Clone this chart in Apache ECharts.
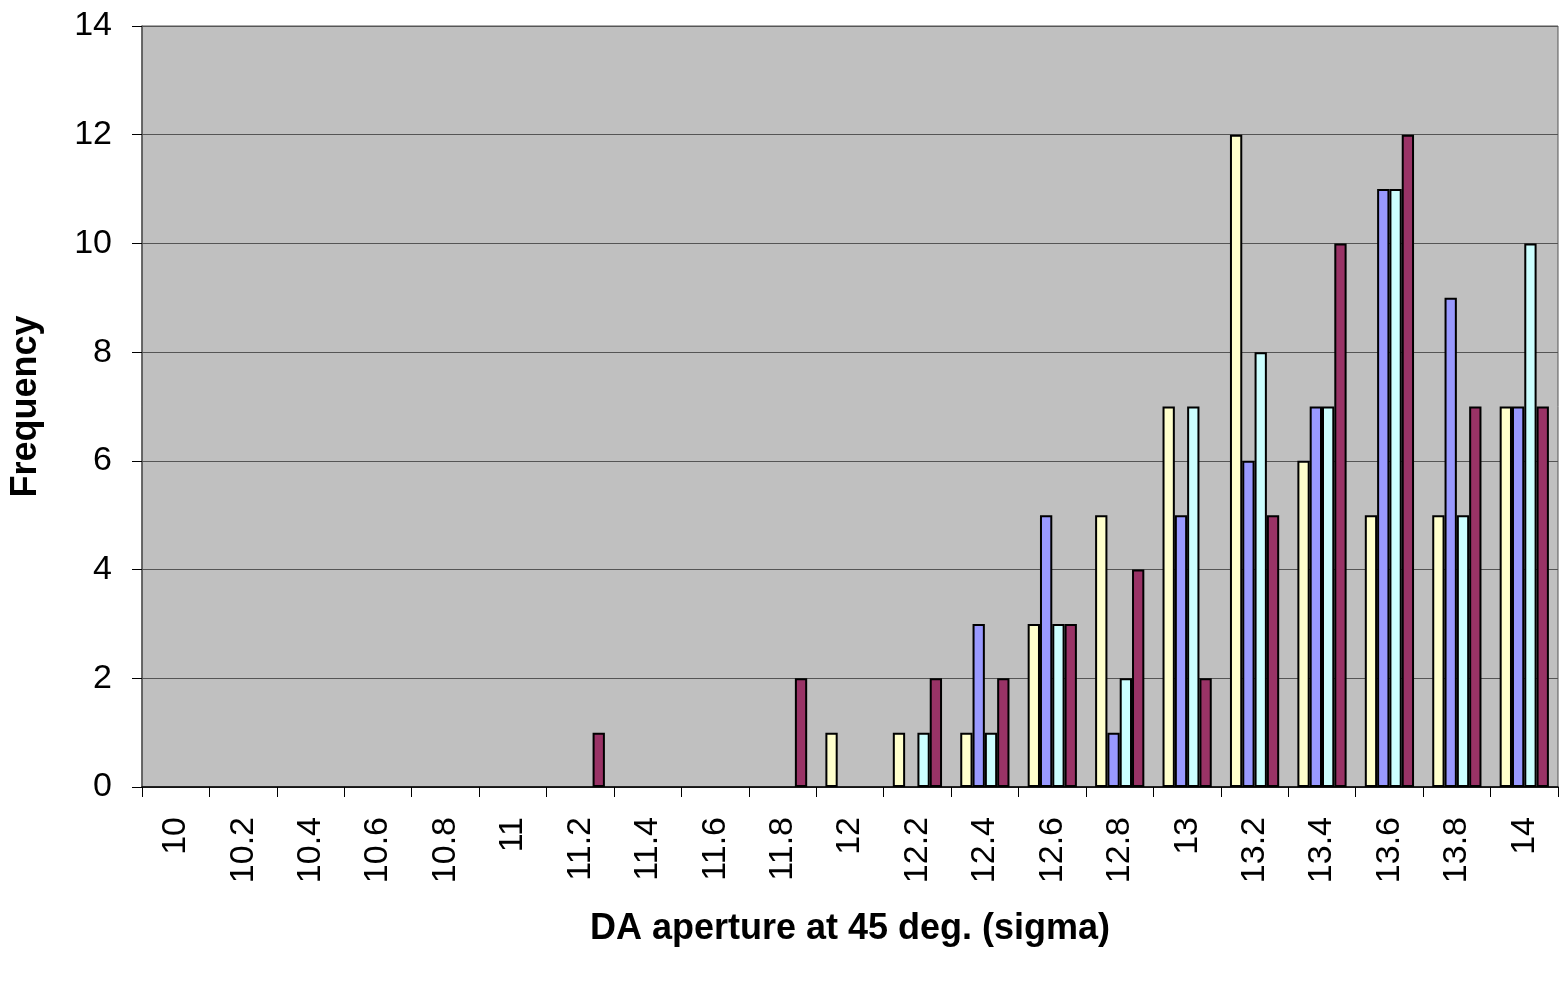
<!DOCTYPE html>
<html>
<head>
<meta charset="utf-8">
<script src="https://cdn.jsdelivr.net/npm/echarts@6/dist/echarts.min.js"></script>
<style>
  html, body { margin: 0; padding: 0; background: #fff; }
  #chart { width: 1561px; height: 998px; }
</style>
</head>
<body>
<div id="chart"></div>
<script>
const categories = ['10', '10.2', '10.4', '10.6', '10.8', '11', '11.2', '11.4', '11.6', '11.8',
  '12', '12.2', '12.4', '12.6', '12.8', '13', '13.2', '13.4', '13.6', '13.8', '14'];

// four frequency series
const seriesA = [0, 0, 0, 0, 0, 0, 0, 0, 0, 0, 1, 1, 1, 3, 5, 7, 12, 6, 5, 5, 7];
const seriesB = [0, 0, 0, 0, 0, 0, 0, 0, 0, 0, 0, 0, 3, 5, 1, 5, 6, 7, 11, 9, 7];
const seriesC = [0, 0, 0, 0, 0, 0, 0, 0, 0, 0, 0, 1, 1, 3, 2, 7, 8, 7, 11, 5, 10];
const seriesD = [0, 0, 0, 0, 0, 0, 1, 0, 0, 2, 0, 2, 2, 3, 4, 2, 5, 10, 12, 7, 7];

const colors = ['#FFFFCC', '#9999FF', '#CCFFFF', '#993366'];

const chart = echarts.init(document.getElementById('chart'));

const mkSeries = (name, data, color) => ({
  name: name,
  type: 'bar',
  data: data.map(v => (v === 0 ? null : v)),
  barGap: '0%',
  barCategoryGap: '27%',
  itemStyle: { color: color, borderColor: '#000', borderWidth: 2 }
});

chart.setOption({
  animation: false,
  backgroundColor: '#fff',
  textStyle: { fontFamily: 'Liberation Sans, Arial, sans-serif' },
  grid: { left: 141, right: 3, top: 26, bottom: 211, show: true, backgroundColor: '#C0C0C0', borderColor: '#555', borderWidth: 1 },
  xAxis: {
    type: 'category',
    data: categories,
    name: 'DA aperture at 45 deg. (sigma)',
    nameLocation: 'middle',
    nameGap: 124,
    nameTextStyle: { fontSize: 36, fontWeight: 'bold', color: '#000' },
    axisLine: { lineStyle: { color: '#000', width: 1.5 } },
    axisTick: { show: true, length: 10, lineStyle: { color: '#000' } },
    axisLabel: { rotate: 90, fontSize: 34, color: '#000', margin: 30, interval: 0 },
    splitLine: { show: false }
  },
  yAxis: {
    type: 'value',
    min: 0,
    max: 14,
    interval: 2,
    name: 'Frequency',
    nameLocation: 'middle',
    nameGap: 98,
    nameRotate: 90,
    nameTextStyle: { fontSize: 36, fontWeight: 'bold', color: '#000' },
    axisLine: { show: true, lineStyle: { color: '#555', width: 1.5 } },
    axisTick: { show: true, length: 10, lineStyle: { color: '#000' } },
    axisLabel: { fontSize: 34, color: '#000', margin: 30 },
    splitLine: { show: true, lineStyle: { color: '#555', width: 1 } }
  },
  series: [
    mkSeries('A', seriesA, colors[0]),
    mkSeries('B', seriesB, colors[1]),
    mkSeries('C', seriesC, colors[2]),
    mkSeries('D', seriesD, colors[3])
  ]
});
</script>
</body>
</html>
